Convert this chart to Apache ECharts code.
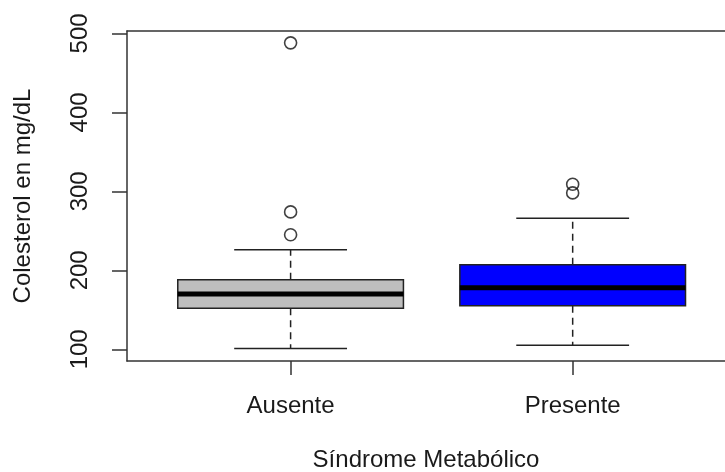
<!DOCTYPE html>
<html>
<head>
    <meta charset="UTF-8">
    <title>Colesterol por Síndrome Metabólico</title>
    <script src="https://cdn.jsdelivr.net/npm/echarts@6/dist/echarts.min.js"></script>
    <style>
        body { margin: 0; background: #fff; }
    </style>
</head>
<body>
    <div id="main" style="width: 725px;height:472px;"></div>
    <script type="text/javascript">
        // datos
        var categorias = ['Ausente', 'Presente'];
        var minimos   = [101, 105];
        var q1        = [152, 155];
        var medianas  = [170, 178];
        var q3        = [188, 207];
        var maximos   = [226, 266];
        var atipicosAusente  = [488, 274, 245];
        var atipicosPresente = [309, 298];
        var ticksY = [100, 200, 300, 400, 500];

        var coloresCaja = ['#bebebe', '#0000ff'];
        var fuente = "'Liberation Sans', Arial, sans-serif";

        var cajas = [];
        for (var i = 0; i < categorias.length; i++) {
            cajas.push([i + 1, minimos[i], q1[i], medianas[i], q3[i], maximos[i]]);
        }
        var atipicos = [];
        atipicosAusente.forEach(function (v) { atipicos.push([1, v]); });
        atipicosPresente.forEach(function (v) { atipicos.push([2, v]); });

        var myChart = echarts.init(document.getElementById('main'));

        function dibujarCaja(params, api) {
            var x = api.value(0);
            var pMin = api.coord([x, api.value(1)]);
            var pQ1 = api.coord([x, api.value(2)]);
            var pMed = api.coord([x, api.value(3)]);
            var pQ3 = api.coord([x, api.value(4)]);
            var pMax = api.coord([x, api.value(5)]);
            var medio = api.size([0.8, 0])[0] / 2;
            var tope = medio / 2;
            var cx = pMed[0];
            var linea = { stroke: '#222', lineWidth: 1.5 };
            var discontinua = { stroke: '#222', lineWidth: 1.5, lineDash: [7, 5] };
            return {
                type: 'group',
                children: [
                    { type: 'line', shape: { x1: cx, y1: pQ3[1], x2: cx, y2: pMax[1] }, style: discontinua },
                    { type: 'line', shape: { x1: cx, y1: pQ1[1], x2: cx, y2: pMin[1] }, style: discontinua },
                    { type: 'line', shape: { x1: cx - tope, y1: pMax[1], x2: cx + tope, y2: pMax[1] }, style: linea },
                    { type: 'line', shape: { x1: cx - tope, y1: pMin[1], x2: cx + tope, y2: pMin[1] }, style: linea },
                    {
                        type: 'rect',
                        shape: { x: cx - medio, y: pQ3[1], width: medio * 2, height: pQ1[1] - pQ3[1] },
                        style: { fill: coloresCaja[params.dataIndex], stroke: '#222', lineWidth: 1.5 }
                    },
                    { type: 'line', shape: { x1: cx - medio, y1: pMed[1], x2: cx + medio, y2: pMed[1] }, style: { stroke: '#000', lineWidth: 5 } }
                ]
            };
        }

        // el marco de R sigue fuera de la imagen por la derecha
        var xMin = 0.42, xMax = 2.54;

        myChart.setOption({
            animation: false,
            grid: {
                left: 127,
                top: 31,
                right: 0,
                height: 330,
                outerBoundsMode: 'none',
                show: false
            },
            xAxis: [{
                type: 'value',
                min: xMin,
                max: xMax,
                name: 'Síndrome Metabólico',
                nameLocation: 'middle',
                nameGap: 87,
                nameTextStyle: { fontFamily: fuente, fontSize: 24, color: '#1a1a1a' },
                splitLine: { show: false },
                axisLine: { show: true, lineStyle: { color: '#333', width: 1.5 } },
                axisTick: { show: true, length: 14, customValues: [1, 2], lineStyle: { color: '#333', width: 1.5 } },
                axisLabel: {
                    customValues: [1, 2],
                    margin: 33,
                    fontFamily: fuente,
                    fontSize: 24,
                    color: '#1a1a1a',
                    formatter: function (v) { return categorias[Math.round(v) - 1]; }
                }
            }, {
                type: 'value',
                position: 'top',
                min: xMin,
                max: xMax,
                splitLine: { show: false },
                axisLine: { show: true, lineStyle: { color: '#333', width: 1.5 } },
                axisTick: { show: false },
                axisLabel: { show: false }
            }],
            yAxis: {
                type: 'value',
                min: 85.2,
                max: 503,
                name: 'Colesterol en mg/dL',
                nameLocation: 'middle',
                nameGap: 92,
                nameTextStyle: { fontFamily: fuente, fontSize: 24, color: '#1a1a1a' },
                splitLine: { show: false },
                axisLine: { show: true, lineStyle: { color: '#333', width: 1.5 } },
                axisTick: { show: true, length: 15, customValues: ticksY, lineStyle: { color: '#333', width: 1.5 } },
                axisLabel: {
                    customValues: ticksY,
                    rotate: 90,
                    margin: 35,
                    fontFamily: fuente,
                    fontSize: 24,
                    color: '#1a1a1a'
                }
            },
            series: [
                {
                    type: 'custom',
                    renderItem: dibujarCaja,
                    encode: { x: 0, y: [1, 2, 3, 4, 5] },
                    data: cajas
                },
                {
                    type: 'scatter',
                    symbol: 'circle',
                    symbolSize: 12,
                    itemStyle: { color: 'rgba(0,0,0,0)', borderColor: '#111', borderWidth: 1.6 },
                    data: atipicos
                }
            ]
        });
    </script>
</body>
</html>
